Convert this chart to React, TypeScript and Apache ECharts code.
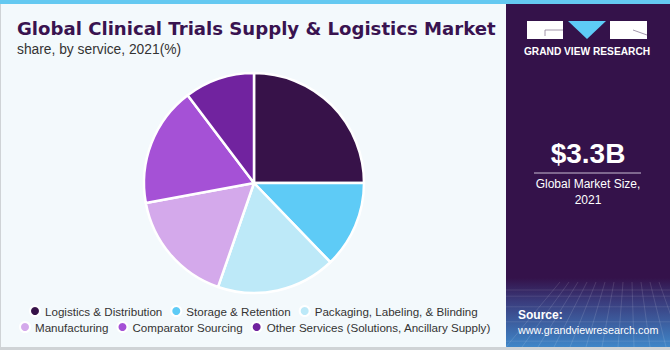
import React, { useEffect, useRef } from "react";
import * as echarts from "echarts";

const categories = [
  "Logistics & Distribution",
  "Storage & Retention",
  "Packaging, Labeling, & Blinding",
  "Manufacturing",
  "Comparator Sourcing",
  "Other Services (Solutions, Ancillary Supply)",
];
const shares = [25.0, 12.8, 17.5, 16.8, 17.6, 10.3];
const colors = ["#371249", "#5ECBF6", "#BDE9F8", "#D4A9EB", "#A551D6", "#71239F"];
const legendRow1 = categories.slice(0, 3);
const legendRow2 = categories.slice(3);

const title = "Global Clinical Trials Supply & Logistics Market";
const subtitle = "share, by service, 2021(%)";
const marketValue = "$3.3B";
const marketLabel = "Global Market Size,\n2021";

export default function App() {
  const ref = useRef<HTMLDivElement>(null);
  useEffect(() => {
    document.body.style.margin = "0";
    const chart = echarts.init(ref.current!, null, { renderer: "svg" });
    const gridLines: any[] = [];
    for (let i = 0; i < 12; i++) {
      gridLines.push({
        type: "line",
        shape: { x1: 506 + i * 16, y1: 347, x2: 560 + i * 9, y2: 282 },
        style: { stroke: "rgba(255,255,255,0.12)", lineWidth: 1 },
        silent: true,
      });
    }
    for (let j = 0; j < 6; j++) {
      const y = 290 + j * j * 2.2 + j * 4;
      gridLines.push({
        type: "line",
        shape: { x1: 506, y1: y, x2: 670, y2: y },
        style: { stroke: "rgba(255,255,255,0.10)", lineWidth: 1 },
        silent: true,
      });
    }
    const legendText = { fontSize: 11.6, color: "#333333", fontFamily: "'Liberation Sans', Arial, sans-serif" };
    chart.setOption({
      animation: false,
      backgroundColor: "#ffffff",
      graphic: [
        { type: "rect", shape: { x: 0, y: 0, width: 506, height: 350 }, style: { fill: "#F3F9FC" }, z: -10 },
        { type: "rect", shape: { x: 0, y: 0, width: 1, height: 350 }, style: { fill: "#CFD3D6" }, z: -9 },
        { type: "rect", shape: { x: 0, y: 347, width: 506, height: 3 }, style: { fill: "#CFD3D6" }, z: -9 },
        { type: "rect", shape: { x: 506, y: 0, width: 164, height: 350 }, style: { fill: "#34124A" }, z: -10 },
        {
          type: "rect",
          shape: { x: 506, y: 278, width: 164, height: 69 },
          style: {
            fill: new echarts.graphic.LinearGradient(0, 0, 0, 1, [
              { offset: 0, color: "#34124A" },
              { offset: 0.35, color: "#3A3D7E" },
              { offset: 1, color: "#3F86C8" },
            ]),
          },
          z: -9,
        },
        ...gridLines.map((g) => ({ ...g, z: -8 })),
        { type: "rect", shape: { x: 506, y: 347, width: 164, height: 3 }, style: { fill: "#CFD3D6" }, z: -7 },
        { type: "rect", shape: { x: 0, y: 0, width: 670, height: 4 }, style: { fill: "#64C9F1" }, z: 5 },
        {
          type: "text", x: 17, y: 19,
          style: { text: title, font: "bold 18.1px 'DejaVu Sans', sans-serif", fill: "#391350" },
        },
        {
          type: "text", x: 17, y: 42,
          style: { text: subtitle, font: "13.8px 'Liberation Sans', Arial, sans-serif", fill: "#333333" },
        },
        // logo
        { type: "rect", shape: { x: 527, y: 21, width: 36, height: 18 }, style: { fill: "#ffffff" } },
        { type: "line", shape: { x1: 545, y1: 30, x2: 563, y2: 30 }, style: { stroke: "#8a7c96", lineWidth: 0.8 } },
        { type: "line", shape: { x1: 545, y1: 30, x2: 545, y2: 36 }, style: { stroke: "#8a7c96", lineWidth: 0.8 } },
        { type: "polygon", shape: { points: [[568, 21], [606, 21], [587, 39]] }, style: { fill: "#5ECBF6" } },
        { type: "rect", shape: { x: 610, y: 21, width: 37, height: 18 }, style: { fill: "#ffffff" } },
        { type: "line", shape: { x1: 633, y1: 30, x2: 647, y2: 35 }, style: { stroke: "#8a7c96", lineWidth: 0.8 } },
        {
          type: "text", x: 587, y: 46,
          style: { text: "GRAND VIEW RESEARCH", font: "bold 10.2px 'Liberation Sans', Arial, sans-serif", fill: "#ffffff", align: "center" },
        },
        {
          type: "text", x: 588, y: 139,
          style: { text: marketValue, font: "bold 28px 'Liberation Sans', Arial, sans-serif", fill: "#ffffff", align: "center" },
        },
        { type: "line", shape: { x1: 534, y1: 173, x2: 641, y2: 173 }, style: { stroke: "#C9BDD3", lineWidth: 1 } },
        {
          type: "text", x: 588, y: 176,
          style: { text: marketLabel, font: "12px 'Liberation Sans', Arial, sans-serif", fill: "#ffffff", align: "center", lineHeight: 16 },
        },
        {
          type: "text", x: 518, y: 309,
          style: { text: "Source:", font: "bold 12px 'Liberation Sans', Arial, sans-serif", fill: "#ffffff" },
        },
        {
          type: "text", x: 518, y: 324,
          style: { text: "www.grandviewresearch.com", font: "10.8px 'Liberation Sans', Arial, sans-serif", fill: "#ffffff" },
        },
      ],
      legend: [
        {
          data: legendRow1,
          left: 29, top: 305, padding: 0,
          icon: "circle", itemWidth: 10, itemHeight: 10, itemGap: 8,
          textStyle: legendText,
          selectedMode: false,
        },
        {
          data: legendRow2,
          left: 19, top: 321, padding: 0,
          icon: "circle", itemWidth: 10, itemHeight: 10, itemGap: 8,
          textStyle: legendText,
          selectedMode: false,
        },
      ],
      series: [
        {
          type: "pie",
          center: [254, 183],
          radius: [0, 110],
          startAngle: 90,
          clockwise: true,
          label: { show: false },
          labelLine: { show: false },
          itemStyle: { borderColor: "#ffffff", borderWidth: 2.5 },
          emphasis: { disabled: true },
          data: categories.map((c, i) => ({ name: c, value: shares[i], itemStyle: { color: colors[i] } })),
        },
      ],
    });
    return () => chart.dispose();
  }, []);
  return <div ref={ref} style={{ width: 670, height: 350 }} />;
}
